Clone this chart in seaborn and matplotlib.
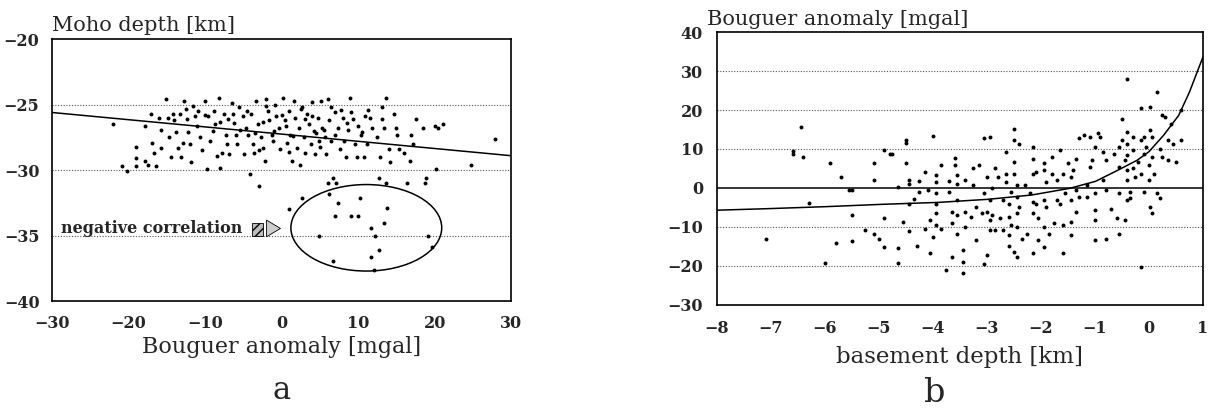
import matplotlib
matplotlib.use("Agg")
import matplotlib.pyplot as plt
import seaborn as sns
import pandas as pd
from matplotlib.patches import Ellipse, Rectangle

sns.set_style("white")
plt.rcParams['font.family'] = ['DejaVu Serif']

# --- panel a: Moho depth vs Bouguer anomaly ---
moho_bouguer = [
    -22.0, -20.9, -20.2, -19.0, -19.0, -19.0, -17.8, -17.8, -17.5, -17.1, -16.9, -16.7, -16.4,
    -16.0, -15.8, -15.8, -15.1, -14.9, -14.7, -14.4, -14.2, -13.8, -13.6, -13.3, -13.1, -12.9,
    -12.7, -12.4, -12.2, -12.0, -11.8, -11.6, -11.3, -10.9, -10.7, -10.4, -10.0, -9.8, -9.6,
    -9.3, -8.9, -8.7, -8.2, -8.0, -7.8, -7.6, -7.3, -7.1, -6.9, -6.4, -6.2, -6.0, -5.8, -5.6,
    -5.1, -4.9, -4.7, -4.4, -4.2, -4.0, -3.8, -3.6, -3.3, -3.1, -2.9, -2.7, -2.4, -2.2, -2.0,
    -1.8, -1.6, -1.3, -1.1, -0.9, -0.7, -0.4, -0.2, 0.2, 0.4, 0.7, 0.9, 0.9, 1.1, 1.3, 1.6,
    1.8, 2.0, 2.2, 2.4, 2.7, 2.7, 2.9, 3.1, 3.3, 3.6, 3.8, 4.0, 4.2, 4.4, 4.7, 4.9, 5.1, 5.3,
    5.6, 5.8, 6.0, 6.0, 6.2, 6.2, 6.4, 6.7, 6.7, 6.9, 6.9, 7.1, 7.3, 7.3, 7.6, 7.8, 8.0, 8.2,
    8.4, 8.7, 8.9, 9.1, 9.3, 9.6, 9.8, 10.0, 10.0, 10.2, 10.4, 10.7, 10.9, 11.1, 11.3, 11.6,
    11.6, 11.8, 12.0, 12.2, 12.4, 12.7, 12.7, 12.9, 13.1, 13.1, 13.3, 13.3, 13.6, 13.6, 13.8,
    14.0, 14.2, 14.7, 14.9, 15.1, 15.3, 16.0, 16.4, 16.7, 16.9, 17.1, 17.6, 18.4, 18.7, 18.9,
    19.1, 19.6, 20.0, 20.2, 20.4, 21.1, 24.7, 27.8, 4.9,
    -14.0, -11.0, -9.0, -7.0, -5.5, -3.5, -2.5, -1.0, 0.5, 1.5, 3.0, 4.5, 5.5, 7.0, 8.5, 10.5,
    -12.5, -10.0, -8.0, -6.5, -4.5, -2.0, 0.0, 2.5, 4.0, 6.5, 9.0, 11.5, -8.5, -3.0, 1.0, 5.0,
]
moho_depth = [
    -26.5, -29.7, -30.1, -28.2, -29.1, -29.7, -26.6, -29.3, -29.6, -25.7, -27.9, -28.7, -29.7,
    -26.0, -26.9, -28.3, -24.6, -26.0, -27.5, -29.0, -25.7, -27.1, -28.3, -25.7, -29.0, -27.9,
    -24.7, -26.1, -27.1, -28.0, -29.4, -25.1, -25.9, -25.5, -27.5, -28.5, -24.7, -29.9, -25.9,
    -27.8, -25.5, -26.5, -24.5, -29.8, -28.7, -25.7, -27.3, -28.0, -28.8, -25.7, -26.4, -27.3,
    -28.0, -25.2, -25.9, -28.8, -26.8, -27.3, -30.3, -25.7, -28.0, -28.7, -24.7, -26.5, -31.2,
    -27.5, -28.3, -29.3, -24.6, -25.5, -26.2, -27.3, -27.8, -25.0, -25.9, -26.8, -28.4, -24.5,
    -26.2, -27.9, -25.5, -33.0, -27.3, -29.3, -24.7, -26.0, -28.3, -26.8, -29.6, -25.2, -32.1,
    -27.5, -28.7, -25.7, -26.5, -28.0, -24.8, -27.0, -28.8, -26.0, -27.8, -24.7, -26.8, -27.5,
    -28.8, -24.6, -31.0, -26.2, -31.8, -27.8, -30.6, -36.9, -25.6, -33.5, -31.0, -26.8, -32.5,
    -28.4, -25.4, -26.0, -27.8, -29.0, -26.9, -24.5, -33.5, -26.1, -28.0, -29.0, -26.6, -33.5,
    -32.1, -27.3, -29.0, -25.9, -28.0, -25.4, -34.4, -36.6, -26.8, -37.6, -35.0, -27.5, -30.6,
    -36.1, -29.0, -25.2, -26.1, -26.8, -34.0, -24.5, -31.0, -32.9, -28.4, -29.4, -25.7, -26.8,
    -27.3, -28.4, -28.7, -31.0, -29.3, -27.3, -28.0, -26.1, -26.8, -31.0, -30.6, -35.0, -35.9,
    -26.6, -29.9, -26.8, -26.5, -29.6, -27.6, -35.0,
    -26.2, -26.6, -27.0, -26.1, -26.9, -27.2, -26.3, -27.0, -26.6, -27.4, -26.1, -27.2, -26.9,
    -27.3, -26.4, -27.1,
    -25.3, -25.8, -26.3, -24.9, -25.5, -25.1, -25.8, -25.3, -25.9, -25.2, -25.6, -26.0, -28.9,
    -28.5, -28.6, -28.2,
]
reg_x = [-30, 30]
reg_y = [-25.6, -28.9]
ellipse_center = (11.05, -34.4)
ellipse_size = (19.7, 6.6)

# --- panel b: Bouguer anomaly vs basement depth ---
basement_depth = [
    -7.1, -6.6, -6.6, -6.45, -6.4, -6.3, -6.0, -5.9, -5.8, -5.7, -5.55, -5.5, -5.5, -5.5, -5.25,
    -5.1, -5.1, -5.1, -5.0, -4.9, -4.9, -4.9, -4.8, -4.75, -4.65, -4.65, -4.65, -4.55, -4.5,
    -4.5, -4.5, -4.45, -4.45, -4.45, -4.45, -4.35, -4.3, -4.25, -4.25, -4.15, -4.15, -4.1,
    -4.05, -4.05, -4.0, -4.0, -3.95, -3.95, -3.95, -3.95, -3.95, -3.95, -3.85, -3.85, -3.75,
    -3.7, -3.7, -3.65, -3.65, -3.65, -3.6, -3.6, -3.55, -3.55, -3.55, -3.55, -3.55, -3.45,
    -3.45, -3.45, -3.4, -3.4, -3.4, -3.3, -3.25, -3.25, -3.2, -3.2, -3.15, -3.1, -3.05, -3.05,
    -3.05, -3.0, -3.0, -3.0, -2.95, -2.95, -2.95, -2.95, -2.9, -2.9, -2.85, -2.85, -2.8, -2.75,
    -2.7, -2.7, -2.65, -2.65, -2.65, -2.6, -2.6, -2.6, -2.6, -2.55, -2.55, -2.5, -2.5, -2.5,
    -2.5, -2.5, -2.45, -2.45, -2.45, -2.45, -2.45, -2.4, -2.4, -2.35, -2.3, -2.25, -2.2, -2.15,
    -2.15, -2.15, -2.15, -2.15, -2.15, -2.1, -2.1, -2.05, -2.05, -1.95, -1.95, -1.95, -1.95,
    -1.95, -1.9, -1.9, -1.85, -1.8, -1.8, -1.75, -1.7, -1.7, -1.65, -1.65, -1.6, -1.6, -1.6,
    -1.55, -1.5, -1.45, -1.45, -1.45, -1.45, -1.4, -1.35, -1.35, -1.35, -1.3, -1.3, -1.2,
    -1.15, -1.15, -1.1, -1.1, -1.05, -1.0, -1.0, -1.0, -1.0, -1.0, -0.95, -0.9, -0.85, -0.85,
    -0.8, -0.8, -0.8, -0.7, -0.65, -0.6, -0.55, -0.55, -0.55, -0.55, -0.5, -0.5, -0.45, -0.45,
    -0.4, -0.4, -0.4, -0.4, -0.4, -0.4, -0.4, -0.35, -0.35, -0.3, -0.3, -0.3, -0.25, -0.2,
    -0.15, -0.15, -0.15, -0.15, -0.1, -0.1, -0.1, -0.05, 0.0, 0.0, 0.02, 0.02, 0.02, 0.05,
    0.05, 0.05, 0.1, 0.15, 0.15, 0.2, 0.2, 0.25, 0.25, 0.3, 0.35, 0.35, 0.4, 0.45, 0.5, 0.6, 0.6,
]
bouguer_b = [
    -13.0, 9.4, 8.6, 15.7, 8.0, -3.8, -19.2, 6.3, -14.2, 2.7, -0.4, -0.4, -7.0, -13.5, -10.8,
    6.5, 2.0, -11.9, -13.1, -15.1, -7.7, 9.7, 8.8, 8.7, -15.5, -19.2, 0.3, -8.7, 12.2,
    11.5, 6.4, 2.0, 1.0, -4.0, -11.1, -2.8, -14.9, -1.0, 1.8, 4.1, -10.4, -0.6,
    -16.6, -8.2, -12.5, 13.4, 3.3, 1.6, -1.4, -4.0, -6.5, -9.5, -10.6, 6.0, -21.1,
    1.7, -1.0, -6.1, -9.1, -17.6, 7.6, 5.8, 3.3, 1.1, -3.1, -7.0, -11.7, -15.9,
    -21.9, -18.9, 2.0, -6.1, -10.0, -7.4, 5.0, 0.7, -4.8, -13.4, 5.8, -6.5, 12.7, -1.4,
    -19.4, -17.2, 2.9, -6.1, -3.1, 13.1, -10.8, -8.2, -0.1, -7.0, -10.8, 5.0, 2.9, -7.8,
    -3.1, -10.8, 9.3, 1.6, 3.7, -4.0, -7.4, -14.9, -12.1, -1.0, -9.5, -16.4, 15.2, 12.2,
    6.7, 3.7, 0.7, -2.3, -6.5, -10.0, -17.6, 11.3, -4.8, -13.0, 0.7, -11.7, -1.4, 10.5,
    7.5, 3.7, -3.6, -6.5, -16.8, 4.1, -4.0, -7.8, -13.4, -15.1, 6.3, 4.6, -3.1,
    -10.0, -4.8, 1.6, -11.7, 8.0, 3.7, -9.1, -3.1, 2.0, 9.7, -4.0, -9.5, 3.7, -16.8,
    -1.4, 6.3, 2.9, -3.1, -8.7, -12.1, 4.6, -0.6, -6.1, 7.5, -2.3, 12.9, 13.5,
    0.7, -2.3, 5.4, 13.0, 7.1, -1.4, 10.5, -5.7, -8.2, -13.4, 14.0, 13.0, 9.3, 2.0,
    -0.6, -13.0, 7.1, -5.3, 8.8, -7.8, 10.5, 5.4, -1.4, -11.7, 17.8, 12.2, -8.2, 7.1,
    28.0, 14.4, 11.4, 8.4, 4.6, 2.0, -3.1, -1.0, -2.7, 13.0, 9.7, 5.0, 2.9, 6.7,
    12.2, 20.4, -20.2, 3.7, 8.8, 13.0, -1.0, 10.5, 5.8, 2.0, 20.8, 14.8, -4.8, -6.5,
    13.0, 8.0, 3.7, 24.6, -1.4, -2.7, 10.1, 18.7, 8.0, 18.2, 7.1, 12.2, 16.5, 11.4, 6.7, 12.2, 19.9,
]
curve_x = [-8, -7.04, -6, -4.95, -3.9, -2.97, -2.17, -1.47, -0.99, -0.57, -0.22, 0, 0.27, 0.55, 0.75, 1]
curve_y = [-5.7, -5.3, -4.8, -4.2, -3.7, -2.9, -1.8, -0.1, 1.7, 4.6, 7.1, 9.3, 13.5, 18.6, 24.6, 33.6]

df_a = pd.DataFrame({'bouguer': moho_bouguer, 'moho': moho_depth})
df_b = pd.DataFrame({'depth': basement_depth, 'bouguer': bouguer_b})

fig = plt.figure(figsize=(12.09, 4.16), dpi=100)
ax1 = fig.add_axes([0.043, 0.276, 0.380, 0.630])
ax2 = fig.add_axes([0.593, 0.267, 0.402, 0.656])

tick_font = {'family': 'DejaVu Serif', 'weight': 'bold', 'size': 11.5}

# panel a
for gy in [-25, -30, -35]:
    ax1.axhline(gy, color='#555555', lw=0.8, ls=(0, (1, 1.5)), zorder=0)
sns.scatterplot(data=df_a, x='bouguer', y='moho', ax=ax1, color='black', s=8,
                edgecolor=None, linewidth=0, legend=False)
sns.lineplot(x=reg_x, y=reg_y, ax=ax1, color='black', lw=1.1)
ax1.add_patch(Ellipse(ellipse_center, ellipse_size[0], ellipse_size[1],
                      fill=False, ec='black', lw=1.1))
ax1.text(-28.8, -34.45, 'negative correlation', fontsize=11.5, fontweight='bold',
         va='center', ha='left', family='DejaVu Serif')
ax1.add_patch(Rectangle((-3.9, -35.0), 1.4, 1.0, fc='#bbbbbb', ec='black',
                        hatch='////', lw=0.6))
ax1.annotate('', xy=(0.2, -34.45), xytext=(-2.2, -34.45),
             arrowprops=dict(arrowstyle='simple,head_width=1.2,head_length=1.0,tail_width=0.55',
                             fc='#cccccc', ec='black', lw=0.6))
ax1.set_xlim(-30, 30)
ax1.set_ylim(-40, -20)
ax1.set_xticks([-30, -20, -10, 0, 10, 20, 30])
ax1.set_yticks([-40, -35, -30, -25, -20])
ax1.set_xlabel('Bouguer anomaly [mgal]', fontsize=16, labelpad=3)
ax1.set_ylabel('')
ax1.text(0.0, 1.015, 'Moho depth [km]', transform=ax1.transAxes, fontsize=15,
         ha='left', va='bottom')

# panel b
for gy in [30, 20, 10, -10, -20]:
    ax2.axhline(gy, color='#555555', lw=0.8, ls=(0, (1, 1.5)), zorder=0)
ax2.axhline(0, color='black', lw=1.1, zorder=1)
sns.scatterplot(data=df_b, x='depth', y='bouguer', ax=ax2, color='black', s=8,
                edgecolor=None, linewidth=0, legend=False)
sns.lineplot(x=curve_x, y=curve_y, ax=ax2, color='black', lw=1.1)
ax2.set_xlim(-8, 1)
ax2.set_ylim(-30, 40)
ax2.set_xticks(list(range(-8, 2)))
ax2.set_yticks(list(range(-30, 41, 10)))
ax2.set_xlabel('basement depth [km]', fontsize=16.5, labelpad=6)
ax2.set_ylabel('')
ax2.text(-0.02, 1.01, 'Bouguer anomaly [mgal]', transform=ax2.transAxes, fontsize=15,
         ha='left', va='bottom')

fig.text(0.2325, 0.062, 'a', fontsize=22, ha='center', va='center')
fig.text(0.773, 0.055, 'b', fontsize=24, ha='center', va='center')

for ax, xpad, ypad in ((ax1, 10, 9), (ax2, 11, 10)):
    for sp in ax.spines.values():
        sp.set_visible(True)
        sp.set_color('black')
        sp.set_linewidth(1.2)
    ax.tick_params(direction='in', length=3, width=0.8)
    ax.tick_params(axis='x', pad=xpad)
    ax.tick_params(axis='y', pad=ypad)
    ax.set_xticklabels([str(t).replace('-', '\u2212') for t in ax.get_xticks()])
    ax.set_yticklabels([str(t).replace('-', '\u2212') for t in ax.get_yticks()])
    for lab in ax.get_xticklabels() + ax.get_yticklabels():
        lab.set_fontproperties(tick_font)
    ax.grid(False)

fig.savefig('out.png', dpi=100)
